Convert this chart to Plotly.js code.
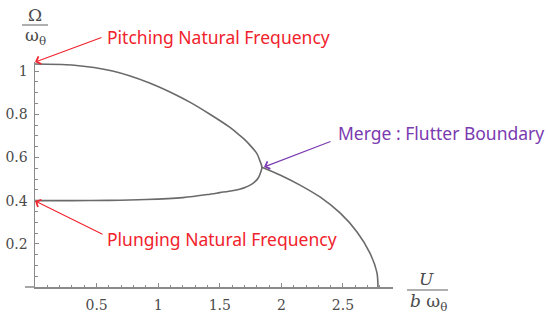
<!DOCTYPE html>
<html>
<head>
<meta charset="utf-8">
<script src="https://cdn.plot.ly/plotly-3.0.1.min.js"></script>
<style>html,body{margin:0;padding:0;background:#fff;}#chart{width:548px;height:313px;}</style>
</head>
<body>
<div id="chart"></div>
<script>
// Lower (plunging) branch, from U = 0 to the merge point
const lowerU = [0, 0.3, 0.6, 0.9, 1.2, 1.4, 1.5, 1.6, 1.66, 1.705, 1.75, 1.786, 1.812, 1.826, 1.842];
const lowerW = [0.4, 0.4, 0.401, 0.405, 0.414, 0.428, 0.437, 0.446, 0.453, 0.461, 0.473, 0.488, 0.505, 0.522, 0.555];
// Upper (pitching) branch, from the merge point back to U = 0
const upperU = [1.842, 1.826, 1.8, 1.745, 1.7, 1.65, 1.58, 1.42, 1.26, 1.1, 0.93, 0.63, 0.3, 0];
const upperW = [0.555, 0.584, 0.619, 0.657, 0.684, 0.708, 0.74, 0.8, 0.855, 0.902, 0.945, 1.0, 1.028, 1.033];
// Single branch after merging (flutter)
const flutterU = [1.842, 1.989, 2.151, 2.313, 2.476, 2.614, 2.719, 2.776, 2.784];
const flutterW = [0.555, 0.519, 0.472, 0.417, 0.343, 0.255, 0.157, 0.065, 0];

const xTickVals = [0.5, 1, 1.5, 2, 2.5];
const xTickText = ['0.5', '1', '1.5', '2', '2.5'];
const yTickVals = [0.2, 0.4, 0.6, 0.8, 1];
const yTickText = ['0.2', '0.4', '0.6', '0.8', '1'];

const L = 35, T = 62, W = 358, H = 225;
const px = x => (x - L) / W;
const py = y => (T + H - y) / H;

const curveColor = '#6a6a6a';
const axisColor = '#8a8a8a';
const red = '#f0222c';
const purple = '#7a3ab0';

const traces = [
  {x: lowerU.concat(upperU.slice(1)), y: lowerW.concat(upperW.slice(1)), mode: 'lines',
   line: {color: curveColor, width: 1.6, shape: 'spline', smoothing: 0.8}, hoverinfo: 'skip'},
  {x: flutterU, y: flutterW, mode: 'lines',
   line: {color: curveColor, width: 1.6, shape: 'spline', smoothing: 0.8}, hoverinfo: 'skip'}
];

const tickFont = {family: 'DejaVu Serif', size: 14, color: '#4a4a4a'};
const labelFont = {family: 'DejaVu Serif', size: 17, color: '#4a4a4a'};
const sansFont = c => ({family: 'Noto Sans', size: 17.5, color: c});

const layout = {
  width: 548, height: 313,
  margin: {l: L, r: 548 - L - W, t: T, b: 313 - T - H, pad: 0},
  paper_bgcolor: '#fff', plot_bgcolor: '#fff',
  showlegend: false,
  xaxis: {
    range: [0, 2.906], showline: true, linecolor: axisColor, linewidth: 1.5,
    showgrid: false, zeroline: false,
    tickmode: 'array', tickvals: xTickVals, ticktext: xTickText,
    ticks: 'inside', ticklen: 4, tickcolor: axisColor, tickwidth: 1,
    minor: {tick0: 0, dtick: 0.1, ticks: 'inside', ticklen: 2.5, tickcolor: axisColor, showgrid: false},
    tickfont: tickFont, ticklabelstandoff: 5, fixedrange: true
  },
  yaxis: {
    range: [0, 1.042], showline: true, linecolor: axisColor, linewidth: 1.5,
    showgrid: false, zeroline: false,
    tickmode: 'array', tickvals: yTickVals, ticktext: yTickText,
    ticks: 'inside', ticklen: 4, tickcolor: axisColor, tickwidth: 1,
    minor: {tick0: 0, dtick: 0.05, ticks: 'inside', ticklen: 2.5, tickcolor: axisColor, showgrid: false},
    tickfont: tickFont, ticklabelstandoff: 3, fixedrange: true
  },
  shapes: [
    {type: 'line', xref: 'paper', yref: 'paper', x0: px(25), x1: px(35), y0: 0, y1: 0,
     line: {color: axisColor, width: 1.5}},
    {type: 'line', xref: 'paper', yref: 'paper', x0: px(22), x1: px(48), y0: py(25), y1: py(25),
     line: {color: '#606060', width: 1}},
    {type: 'line', xref: 'paper', yref: 'paper', x0: px(407), x1: px(448), y0: py(290), y1: py(290),
     line: {color: '#606060', width: 1}}
  ],
  annotations: [
    {xref: 'paper', yref: 'paper', x: px(35), y: py(15), text: 'Ω', showarrow: false,
     xanchor: 'center', yanchor: 'middle', font: labelFont},
    {xref: 'paper', yref: 'paper', x: px(35), y: py(37), text: 'ω<sub>θ</sub>', showarrow: false,
     xanchor: 'center', yanchor: 'middle', font: labelFont},
    {xref: 'paper', yref: 'paper', x: px(426), y: py(279), text: '<i>U</i>', showarrow: false,
     xanchor: 'center', yanchor: 'middle', font: labelFont},
    {xref: 'paper', yref: 'paper', x: px(428), y: py(302), text: '<i>b</i> ω<sub>θ</sub>', showarrow: false,
     xanchor: 'center', yanchor: 'middle', font: labelFont},

    {xref: 'paper', yref: 'paper', x: px(105), y: py(37), text: 'Pitching Natural Frequency', showarrow: false,
     xanchor: 'left', yanchor: 'middle', font: sansFont(red)},
    {xref: 'paper', yref: 'paper', x: px(105), y: py(239), text: 'Plunging Natural Frequency', showarrow: false,
     xanchor: 'left', yanchor: 'middle', font: sansFont(red)},
    {xref: 'paper', yref: 'paper', x: px(336), y: py(133), text: 'Merge : Flutter Boundary', showarrow: false,
     xanchor: 'left', yanchor: 'middle', font: sansFont(purple)},

    {xref: 'paper', yref: 'paper', x: px(35), y: py(62), ax: 103 - 35, ay: 37 - 62, text: '',
     showarrow: true, arrowhead: 4, arrowsize: 1.4, arrowwidth: 1.1, arrowcolor: red, standoff: 0},
    {xref: 'paper', yref: 'paper', x: px(35), y: py(201), ax: 104 - 35, ay: 235 - 201, text: '',
     showarrow: true, arrowhead: 4, arrowsize: 1.4, arrowwidth: 1.1, arrowcolor: red, standoff: 0},
    {xref: 'paper', yref: 'paper', x: px(264), y: py(167), ax: 332 - 264, ay: 141 - 167, text: '',
     showarrow: true, arrowhead: 4, arrowsize: 1.4, arrowwidth: 1.1, arrowcolor: purple, standoff: 0}
  ]
};

Plotly.newPlot('chart', traces, layout, {displayModeBar: false, staticPlot: true});
</script>
</body>
</html>
